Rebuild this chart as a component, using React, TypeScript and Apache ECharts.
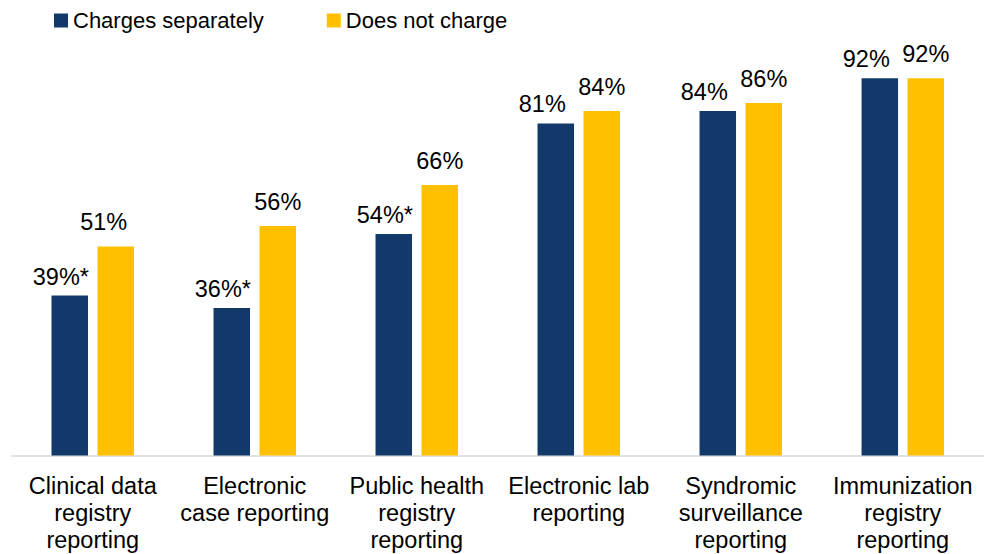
import React, { useEffect, useRef } from "react";
import * as echarts from "echarts";

const categories = [
  "Clinical data\nregistry\nreporting",
  "Electronic\ncase reporting",
  "Public health\nregistry\nreporting",
  "Electronic lab\nreporting",
  "Syndromic\nsurveillance\nreporting",
  "Immunization\nregistry\nreporting",
];
const chargesSeparately = [39, 36, 54, 81, 84, 92];
const significant = [true, true, true, false, false, false];
const doesNotCharge = [51, 56, 66, 84, 86, 92];
const seriesNames = ["Charges separately", "Does not charge"];

const FONT = "'Liberation Sans', Arial, sans-serif";

export default function App() {
  const ref = useRef<HTMLDivElement>(null);
  useEffect(() => {
    if (!ref.current) return;
    const chart = echarts.init(ref.current, undefined, { renderer: "svg" });
    chart.setOption({
      animation: false,
      backgroundColor: "#ffffff",
      legend: {
        left: 54,
        top: 9.5,
        padding: 0,
        itemWidth: 14,
        itemHeight: 14,
        itemGap: 63,
        icon: "rect",
        textStyle: { fontFamily: FONT, fontSize: 22, color: "#000" },
        data: seriesNames,
      },
      grid: { left: 11.75, right: 6.2, top: 45.5, bottom: 98.5, containLabel: false },
      xAxis: {
        type: "category",
        data: categories,
        axisLine: { show: true, lineStyle: { color: "#D9D9D9", width: 1.5 } },
        axisTick: { show: false },
        axisLabel: {
          interval: 0,
          margin: 17,
          fontFamily: FONT,
          fontSize: 23.5,
          lineHeight: 27,
          color: "#000",
          align: "center",
        },
      },
      yAxis: { type: "value", min: 0, max: 100, show: false, splitLine: { show: false } },
      series: [
        {
          name: seriesNames[0],
          type: "bar",
          data: chargesSeparately,
          barWidth: 36.5,
          barGap: "26%",
          itemStyle: { color: "#13386A" },
          label: {
            show: true,
            position: "top",
            distance: 7,
            align: "left",
            offset: [-37, 0],
            fontFamily: FONT,
            fontSize: 23.5,
            color: "#000",
            formatter: (p: any) => `${p.value}%${significant[p.dataIndex] ? "*" : ""}`,
          },
        },
        {
          name: seriesNames[1],
          type: "bar",
          data: doesNotCharge.map((v, i) =>
            i === 0 ? { value: v, label: { offset: [-12, 0] } } : v
          ),
          barWidth: 36.5,
          itemStyle: { color: "#FFC000" },
          label: {
            show: true,
            position: "top",
            distance: 12,
            fontFamily: FONT,
            fontSize: 23.5,
            color: "#000",
            formatter: (p: any) => `${p.value}%`,
          },
        },
      ],
    });
    return () => chart.dispose();
  }, []);
  return <div ref={ref} style={{ width: 990, height: 554, position: "absolute", left: 0, top: 0 }} />;
}
